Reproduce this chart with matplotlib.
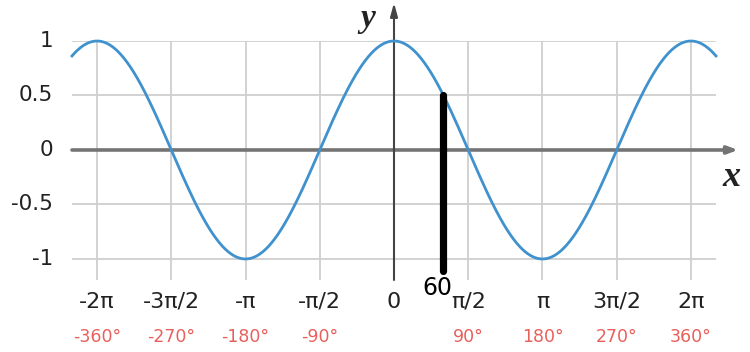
import numpy as np
import matplotlib
matplotlib.use("Agg")
import matplotlib.pyplot as plt

# Data
x_ticks_halfpi = [-4, -3, -2, -1, 0, 1, 2, 3, 4]  # multiples of pi/2
x_tick_labels = ['-2π', '-3π/2', '-π', '-π/2', '0', 'π/2', 'π', '3π/2', '2π']
deg_ticks_halfpi = [-4, -3, -2, -1, 1, 2, 3, 4]
deg_labels = ['-360°', '-270°', '-180°', '-90°', '90°', '180°', '270°', '360°']
y_ticks = [-1, -0.5, 0, 0.5, 1]
y_tick_labels = ['-1', '-0.5', '0', '0.5', '1']
mark_deg = 60          # the hand-drawn marker
mark_top = 0.5
mark_bottom = -1.11
mark_label = '60'

XMIN, XMAX = -2 * np.pi - 0.53, 2 * np.pi + 0.53
YMIN, YMAX = -1.193, 1.0

fig = plt.figure(figsize=(7.5, 3.52), dpi=100)
ax = fig.add_axes([72 / 750, 72 / 352, 644 / 750, 239 / 352])
ax.set_xlim(XMIN, XMAX)
ax.set_ylim(YMIN, YMAX)
ax.axis('off')

grid_c = '#cfcfcf'
for k in x_ticks_halfpi:
    if k != 0:
        ax.plot([k * np.pi / 2] * 2, [YMIN, 1.0], color=grid_c, lw=1.3, zorder=1)
for yv in y_ticks:
    if yv != 0:
        ax.plot([XMIN, XMAX], [yv, yv], color=grid_c, lw=1.3, zorder=1)

# x axis with arrow
ax.annotate('', xy=(XMAX + 0.47, 0), xytext=(XMIN, 0), annotation_clip=False,
            arrowprops=dict(arrowstyle='-|>,head_length=0.6,head_width=0.22',
                            color='#747474', lw=2.6, shrinkA=0, shrinkB=0), zorder=2)
# y axis with arrow
ax.annotate('', xy=(0, 1.35), xytext=(0, YMIN), annotation_clip=False,
            arrowprops=dict(arrowstyle='-|>,head_length=0.8,head_width=0.22',
                            color='#444444', lw=1.5, shrinkA=0, shrinkB=0), zorder=2)

# cosine curve
xs = np.linspace(XMIN, XMAX, 800)
ax.plot(xs, np.cos(xs), color='#3f92cd', lw=2.0, zorder=3, clip_on=False)

# y tick labels
for yv, lab in zip(y_ticks, y_tick_labels):
    ax.text(XMIN - 0.40, yv, lab, ha='right', va='center', fontsize=15.5,
            color='#222222', clip_on=False)

# x tick labels (radians)
y_rad = YMIN - 22 / 109
for k, lab in zip(x_ticks_halfpi, x_tick_labels):
    ax.text(k * np.pi / 2, y_rad, lab, ha='center', va='center', fontsize=16,
            color='#222222', clip_on=False)

# x tick labels (degrees)
y_deg = YMIN - 57 / 109
for k, lab in zip(deg_ticks_halfpi, deg_labels):
    ax.text(k * np.pi / 2, y_deg, lab, ha='center', va='center', fontsize=12.5,
            color='#e8605c', clip_on=False)

# axis names
ax.text(XMAX + 0.33, -0.25, 'x', fontsize=26, fontweight='bold', style='italic',
        family='Liberation Serif', ha='center', va='center', color='#222222', clip_on=False)
ax.text(-0.55, 1.21, 'y', fontsize=24, fontweight='bold', style='italic',
        family='Liberation Serif', ha='center', va='center', color='#222222', clip_on=False)

# marker at 60 degrees
mx = np.deg2rad(mark_deg)
ax.plot([mx, mx], [mark_top, mark_bottom], color='black', lw=5.2,
        solid_capstyle='round', zorder=4, clip_on=False)
ax.text(mx - 0.14, mark_bottom - 0.155, mark_label, ha='center', va='center',
        fontsize=17, color='black', clip_on=False)

fig.savefig('out.png', dpi=100)
